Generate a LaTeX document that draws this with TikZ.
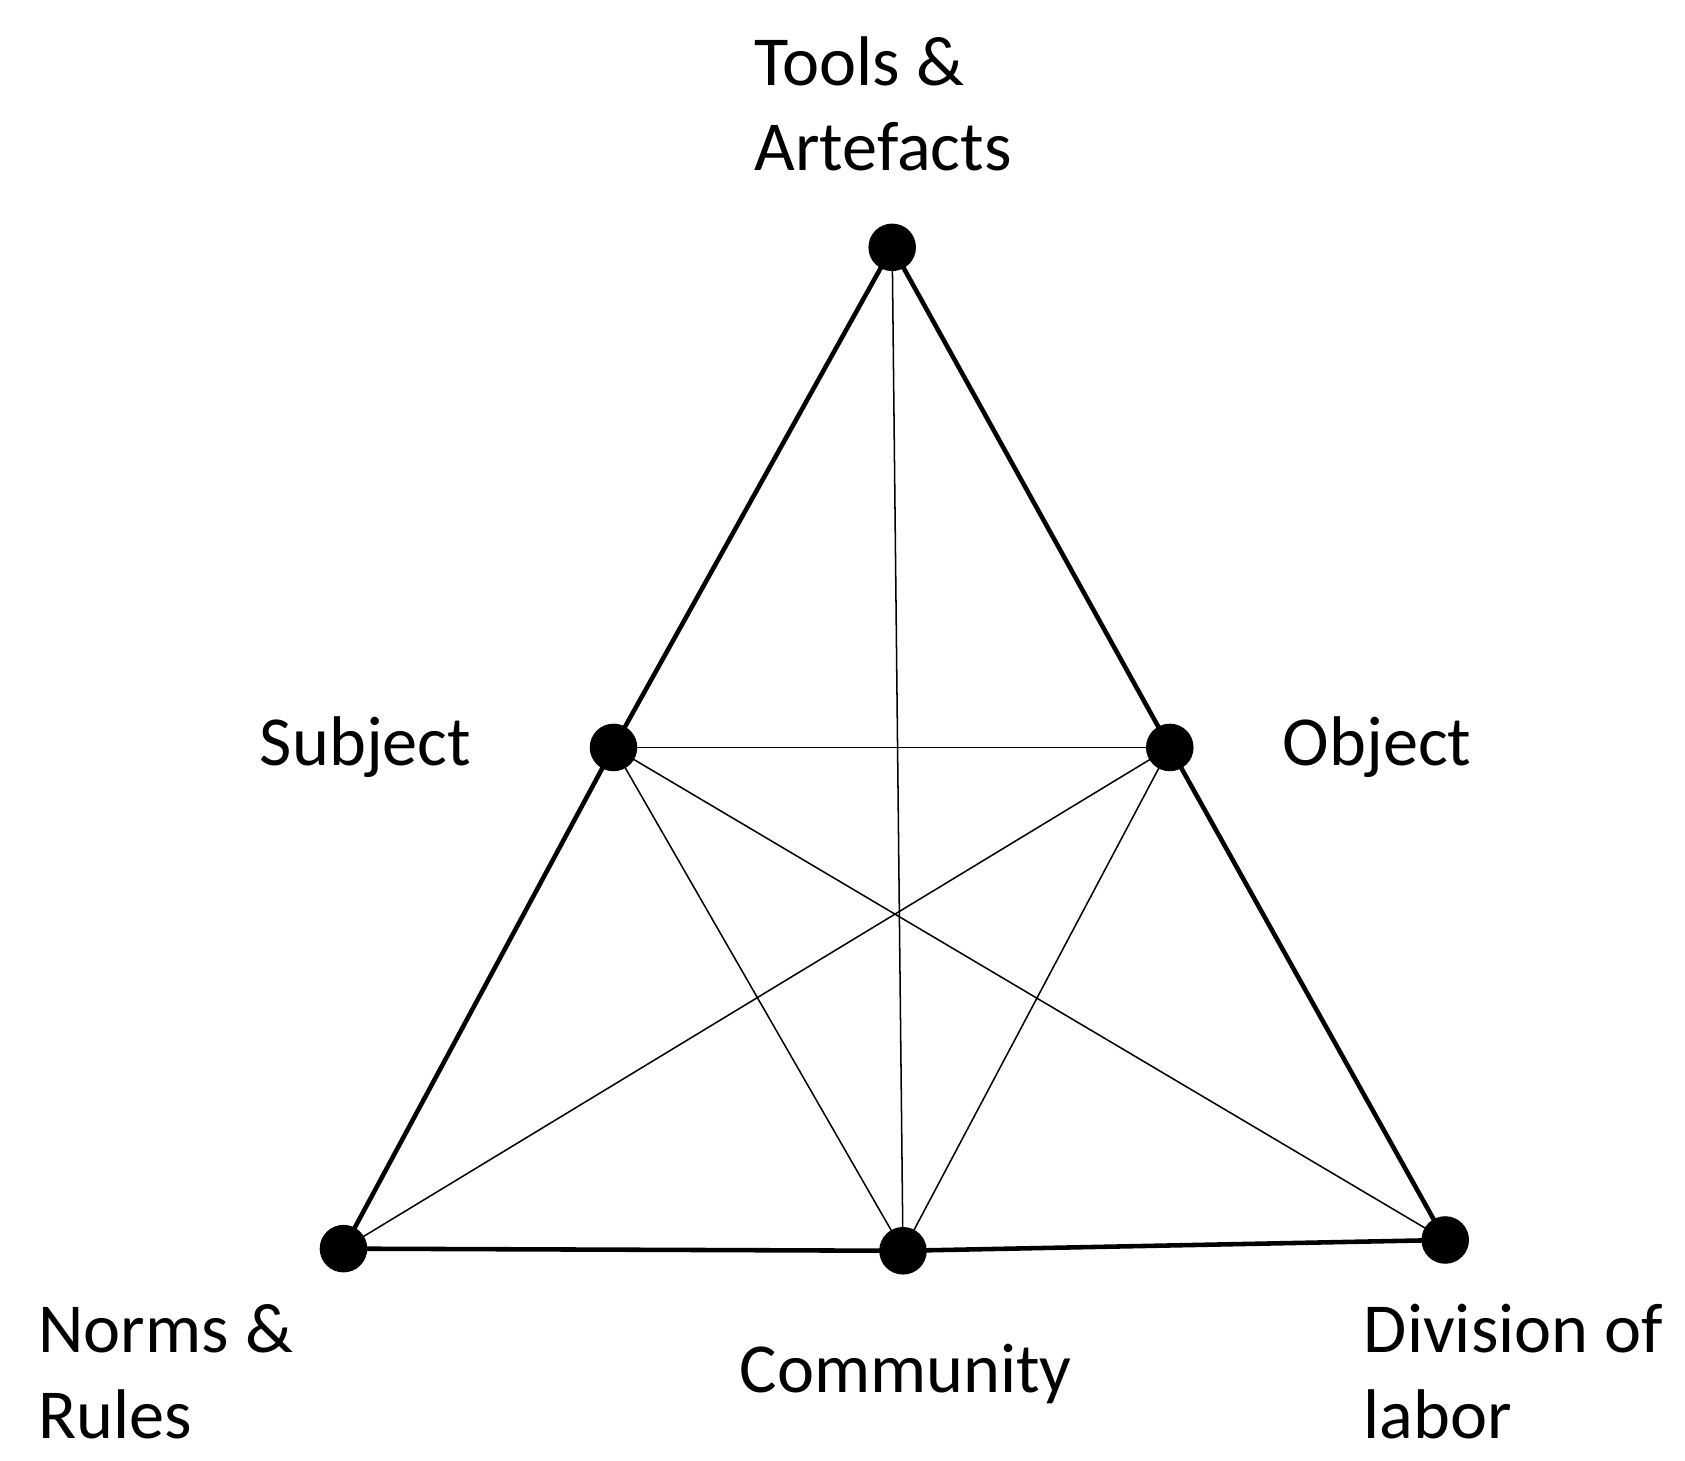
\documentclass[tikz,border=0pt]{standalone}
\usepackage{fontspec}
\setmainfont{Carlito}
\begin{document}
\begin{tikzpicture}[x=0.01cm,y=-0.01cm,
  dot/.style={circle,fill=black,inner sep=0pt,minimum size=0.44cm},
  lbl/.style={font=\fontsize{18.5pt}{22.5pt}\selectfont,align=left,inner sep=0pt},
  thick line/.style={line width=1.2pt},
  thin line/.style={line width=0.4pt}]
\useasboundingbox (0,0) rectangle (1560,1352);
\node[dot] (T) at (826,229) {};
\node[dot] (S) at (568,692) {};
\node[dot] (O) at (1083,692) {};
\node[dot] (N) at (318,1156) {};
\node[dot] (C) at (836,1158) {};
\node[dot] (D) at (1338,1148) {};
\draw[thick line] (T.center) -- (S.center) -- (N.center) -- (C.center) -- (D.center) -- (O.center) -- (T.center);
\draw[thin line] (S.center) -- (O.center);
\draw[thin line] (T.center) -- (C.center);
\draw[thin line] (S.center) -- (C.center);
\draw[thin line] (S.center) -- (D.center);
\draw[thin line] (O.center) -- (N.center);
\draw[thin line] (O.center) -- (C.center);
\node[lbl,anchor=west] (tl) at (698,96) {Tools \&\\Artefacts};
\node[lbl,anchor=west] (sl) at (240,692) {Subject};
\node[lbl,anchor=west] (ol) at (1187,692) {Object};
\node[lbl,anchor=west] (nl) at (35,1270) {Norms \&\\Rules};
\node[lbl,anchor=west] (cl) at (684,1272) {Community};
\node[lbl,anchor=west] (dl) at (1262,1270) {Division of\\labor};
\end{tikzpicture}
\end{document}
